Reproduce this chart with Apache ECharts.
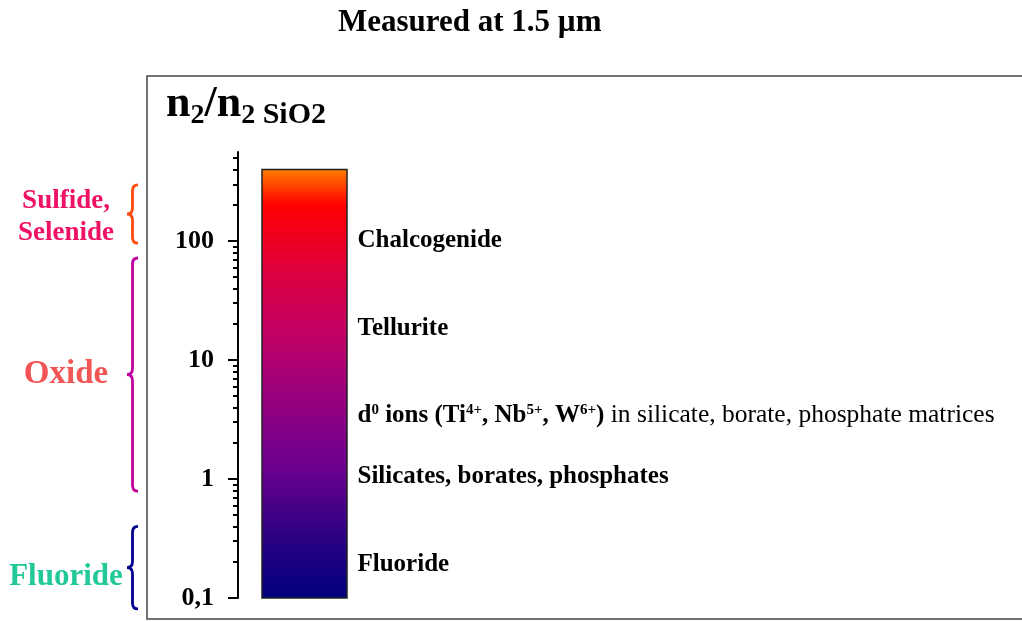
<!DOCTYPE html>
<html>
<head>
<meta charset="utf-8">
<script src="https://cdn.jsdelivr.net/npm/echarts@6/dist/echarts.min.js"></script>
<style>
  html, body { margin: 0; padding: 0; background: #ffffff; }
  #chart { width: 1022px; height: 622px; }
</style>
</head>
<body>
<div id="chart"></div>
<script>
// ---------- data ----------
const categories = ['Nonlinear index'];
const barBottom = [0.1];
const barTop = [400];

const glassLabels = ['Chalcogenide', 'Tellurite', 'd0 ions (Ti4+, Nb5+, W6+) in silicate, borate, phosphate matrices', 'Silicates, borates, phosphates', 'Fluoride'];
const glassValues = [100, 18.5, 3.4, 1.05, 0.19];

const familyNames = ['Sulfide,\nSelenide', 'Oxide', 'Fluoride'];
const familyFrom = [96, 0.79, 0.081];
const familyTo = [296, 72, 0.40];

const yTickValues = [0.1, 1, 10, 100];
const yTickLabels = ['0,1', '1', '10', '100'];
const yMinorTicks = [0.2, 0.3, 0.4, 0.5, 0.6, 0.7, 0.8, 0.9, 2, 3, 4, 5, 6, 7, 8, 9, 20, 30, 40, 50, 60, 70, 80, 90, 200, 300, 400, 500];
const yMin = 0.1;
const yMax = 560;

// ---------- styling ----------
const SERIF = '"Liberation Serif", "Times New Roman", serif';
const familyTextColors = ['#ee1166', '#f25555', '#22c898'];
const familyBraceColors = ['#ff4a10', '#c000a0', '#00008e'];
const familyFontSizes = [27, 33, 31];
const familyTextShift = [3, 0, 9];

const chart = echarts.init(document.getElementById('chart'));

function tickLabel(v) {
  for (let i = 0; i < yTickValues.length; i++) {
    if (Math.abs(Math.log10(v) - Math.log10(yTickValues[i])) < 1e-6) return yTickLabels[i];
  }
  return '';
}

function bracePath(xTip, yTop, yBot) {
  const w = 11, xm = xTip + w / 2, xe = xTip + w;
  const ym = (yTop + yBot) / 2;
  const r = Math.min(6, (yBot - yTop) / 6);
  return 'M' + xe + ' ' + yTop +
    ' Q' + xm + ' ' + yTop + ' ' + xm + ' ' + (yTop + r) +
    ' L' + xm + ' ' + (ym - r) +
    ' Q' + xm + ' ' + ym + ' ' + xTip + ' ' + ym +
    ' Q' + xm + ' ' + ym + ' ' + xm + ' ' + (ym + r) +
    ' L' + xm + ' ' + (yBot - r) +
    ' Q' + xm + ' ' + yBot + ' ' + xe + ' ' + yBot;
}

const richLabel = {
  b: { fontFamily: SERIF, fontWeight: 'bold', fontSize: 25, color: '#000', lineHeight: 27 },
  n: { fontFamily: SERIF, fontWeight: 'normal', fontSize: 25.5, color: '#000', lineHeight: 27 },
  sup: { fontFamily: SERIF, fontWeight: 'bold', fontSize: 15, color: '#000', lineHeight: 14, verticalAlign: 'top' }
};

function glassFormatter(p) {
  const t = glassLabels[p.dataIndex];
  if (p.dataIndex === 2) {
    return '{b|d}{sup|0}{b| ions (Ti}{sup|4+}{b|, Nb}{sup|5+}{b|, W}{sup|6+}{b|)}{n| in silicate, borate, phosphate matrices}';
  }
  return '{b|' + t + '}';
}

const option = {
  backgroundColor: '#ffffff',
  animation: false,
  title: [
    {
      text: 'Measured at 1.5 µm',
      left: 338, top: 7, padding: 0,
      textStyle: { fontFamily: SERIF, fontWeight: 'bold', fontSize: 31, color: '#000', lineHeight: 32 }
    },
    {
      text: '{n|n}{s|2}{n|/n}{s|2}{g| SiO2}',
      left: 166, top: 80, padding: 0,
      textStyle: {
        rich: {
          n: { fontFamily: SERIF, fontWeight: 'bold', fontSize: 44, color: '#000', lineHeight: 50 },
          s: { fontFamily: SERIF, fontWeight: 'bold', fontSize: 28, color: '#000', lineHeight: 26, verticalAlign: 'bottom' },
          g: { fontFamily: SERIF, fontWeight: 'bold', fontSize: 30, color: '#000', lineHeight: 28, verticalAlign: 'bottom' }
        }
      }
    }
  ],
  graphic: [
    {
      type: 'rect', z: -1, silent: true,
      shape: { x: 147, y: 76, width: 900, height: 543 },
      style: { fill: 'none', stroke: '#444', lineWidth: 1.5 }
    }
  ],
  grid: { left: 238, top: 152, width: 133, bottom: 24, containLabel: false },
  xAxis: {
    type: 'category', data: categories, show: false
  },
  yAxis: [
    {
      type: 'log', logBase: 10, min: yMin, max: yMax, position: 'left',
      axisLine: { show: true, lineStyle: { color: '#000', width: 2 } },
      axisTick: { show: true, customValues: yTickValues, length: 10, inside: false, lineStyle: { color: '#000', width: 2 } },
      axisLabel: {
        show: true, customValues: yTickValues, formatter: tickLabel, margin: 24,
        fontFamily: SERIF, fontWeight: 'bold', fontSize: 26, color: '#000'
      },
      splitLine: { show: false },
      minorTick: { show: false }
    },
    {
      type: 'log', logBase: 10, min: yMin, max: yMax, position: 'left', offset: 0,
      axisLine: { show: false },
      axisTick: { show: true, customValues: yMinorTicks, length: 5, inside: false, lineStyle: { color: '#000', width: 2 } },
      axisLabel: { show: false },
      splitLine: { show: false }
    }
  ],
  series: [
    {
      type: 'custom',
      name: 'bar',
      yAxisIndex: 0,
      encode: { x: 0, y: [1, 2] },
      data: categories.map((c, i) => [i, barBottom[i], barTop[i]]),
      renderItem: function (params, api) {
        const top = api.coord([api.value(0), api.value(2)]);
        const bot = api.coord([api.value(0), api.value(1)]);
        const w = 85;
        return {
          type: 'rect',
          shape: { x: top[0] - w / 2, y: top[1], width: w, height: bot[1] - top[1] },
          style: {
            fill: new echarts.graphic.LinearGradient(0, 0, 0, 1, [
              { offset: 0.00, color: '#ff7f00' },
              { offset: 0.035, color: '#ff4a00' },
              { offset: 0.085, color: '#ff0000' },
              { offset: 0.23, color: '#e0003c' },
              { offset: 0.39, color: '#c00066' },
              { offset: 0.53, color: '#98007e' },
              { offset: 0.70, color: '#6a0090' },
              { offset: 0.86, color: '#2a0082' },
              { offset: 1.00, color: '#00007e' }
            ]),
            stroke: '#222', lineWidth: 1.5
          }
        };
      }
    },
    {
      type: 'custom',
      name: 'families',
      yAxisIndex: 0,
      clip: false,
      encode: { x: 0, y: [1, 2] },
      data: familyNames.map((n, i) => [0, familyFrom[i], familyTo[i]]),
      renderItem: function (params, api) {
        const i = params.dataIndex;
        const yA = api.coord([0, api.value(2)])[1];
        const yB = api.coord([0, api.value(1)])[1];
        const xTip = params.coordSys.x - 111;
        return {
          type: 'group',
          children: [
            {
              type: 'path',
              shape: { pathData: bracePath(xTip, yA, yB) },
              style: { fill: 'none', stroke: familyBraceColors[i], lineWidth: 2.8 }
            },
            {
              type: 'text',
              style: {
                text: familyNames[i],
                x: xTip - 61, y: (yA + yB) / 2 + familyTextShift[i],
                align: 'center', verticalAlign: 'middle',
                fontFamily: SERIF, fontWeight: 'bold', fontSize: familyFontSizes[i],
                lineHeight: 32,
                fill: familyTextColors[i]
              }
            }
          ]
        };
      }
    },
    {
      type: 'scatter',
      name: 'glasses',
      yAxisIndex: 0,
      symbolSize: 0,
      itemStyle: { opacity: 1 },
      data: glassValues.map(v => [0, v]),
      label: {
        show: true, position: 'right', distance: 53, align: 'left', color: '#000',
        formatter: glassFormatter, rich: richLabel
      },
      emphasis: { disabled: true }
    }
  ]
};

chart.setOption(option);
</script>
</body>
</html>
